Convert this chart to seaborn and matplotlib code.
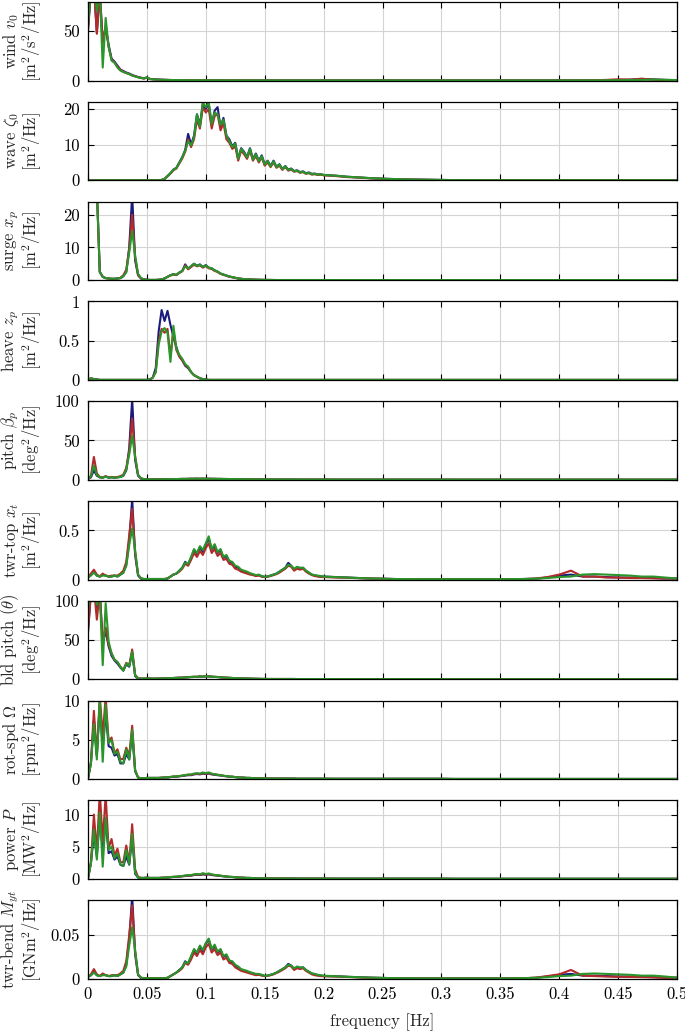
import numpy as np
import pandas as pd
import seaborn as sns
import matplotlib.pyplot as plt
from matplotlib.ticker import FuncFormatter

# frequency grid [Hz]
freq = [0, 0.0025, 0.005, 0.0075, 0.01, 0.0125, 0.015, 0.0175, 0.02, 0.0225, 0.025,
        0.0275, 0.03, 0.0325, 0.035, 0.0375, 0.04, 0.0425, 0.045, 0.0475, 0.05,
        0.0525, 0.055, 0.0575, 0.06, 0.0625, 0.065, 0.0675, 0.07, 0.0725, 0.075,
        0.0775, 0.08, 0.0825, 0.085, 0.0875, 0.09, 0.0925, 0.095, 0.0975, 0.1,
        0.1025, 0.105, 0.1075, 0.11, 0.1125, 0.115, 0.1175, 0.12, 0.1225, 0.125,
        0.1275, 0.13, 0.1325, 0.135, 0.1375, 0.14, 0.1425, 0.145, 0.1475, 0.15,
        0.1525, 0.155, 0.1575, 0.16, 0.1625, 0.165, 0.1675, 0.17, 0.1725, 0.175,
        0.1775, 0.18, 0.1825, 0.185, 0.1875, 0.19, 0.1925, 0.195, 0.1975, 0.2,
        0.21, 0.22, 0.23, 0.24, 0.25, 0.26, 0.27, 0.28, 0.29, 0.3,
        0.31, 0.32, 0.33, 0.34, 0.35, 0.36, 0.37, 0.38, 0.39, 0.4,
        0.41, 0.42, 0.43, 0.44, 0.45, 0.46, 0.47, 0.48, 0.49, 0.5]

# wind v0
wind_a = [50, 90, 95, 48, 88, 40, 52, 36, 22, 19, 15, 11, 9.5, 8, 7, 5.5, 4.5, 3.5, 2.8, 2.2, 3.0,
          1.6, 1.3, 1.1, 0.9, 0.8, 0.7, 0.6, 0.5, 0.45, 0.4, 0.35, 0.3, 0.3, 0.25, 0.25, 0.2, 0.2, 0.2, 0.2, 0.2,
          0.2, 0.2, 0.18, 0.18, 0.16, 0.16, 0.15, 0.15, 0.15, 0.14, 0.14, 0.13, 0.13, 0.12, 0.12, 0.12, 0.11, 0.11, 0.11, 0.1,
          0.1, 0.1, 0.1, 0.1, 0.1, 0.1, 0.1, 0.1, 0.1, 0.1, 0.1, 0.1, 0.1, 0.1, 0.1, 0.1, 0.1, 0.1, 0.1, 0.1,
          0.1, 0.1, 0.1, 0.1, 0.1, 0.08, 0.08, 0.08, 0.08, 0.08, 0.08, 0.08, 0.08, 0.08, 0.08,
          0.1, 0.1, 0.1, 0.1, 0.1, 0.12, 0.15, 0.2, 0.3, 0.5, 0.8, 1.6, 1.1, 0.6, 0.4]
wind_b = [52, 92, 96, 47, 90, 38, 55, 34, 21, 18, 14, 10.5, 9, 7.5, 6.5, 5, 4.2, 3.3, 2.6, 2.0, 2.8,
          1.5, 1.2, 1.0, 0.85, 0.75, 0.65, 0.55, 0.48, 0.42, 0.38, 0.33, 0.3, 0.28, 0.24, 0.23, 0.2, 0.2, 0.19, 0.19, 0.18,
          0.18, 0.17, 0.17, 0.16, 0.15, 0.15, 0.14, 0.14, 0.14, 0.13, 0.13, 0.12, 0.12, 0.12, 0.11, 0.11, 0.11, 0.1, 0.1, 0.1,
          0.1, 0.1, 0.1, 0.1, 0.1, 0.1, 0.1, 0.1, 0.1, 0.1, 0.1, 0.1, 0.1, 0.1, 0.1, 0.1, 0.1, 0.1, 0.1, 0.1,
          0.1, 0.1, 0.1, 0.1, 0.1, 0.08, 0.08, 0.08, 0.08, 0.08, 0.08, 0.08, 0.08, 0.08, 0.08,
          0.1, 0.1, 0.1, 0.1, 0.1, 0.12, 0.2, 0.3, 0.6, 1.2, 0.9, 1.8, 0.8, 0.5, 0.3]
wind_c = [55, 95, 100, 70, 92, 13, 63, 34, 20, 18, 13, 10, 8.5, 7.5, 6.5, 5, 4, 3.2, 2.5, 2.0, 3.2,
          1.5, 1.2, 1.0, 0.85, 0.75, 0.65, 0.55, 0.48, 0.42, 0.38, 0.33, 0.3, 0.28, 0.24, 0.23, 0.2, 0.2, 0.19, 0.19, 0.18,
          0.18, 0.17, 0.17, 0.16, 0.15, 0.15, 0.14, 0.14, 0.14, 0.13, 0.13, 0.12, 0.12, 0.12, 0.11, 0.11, 0.11, 0.1, 0.1, 0.1,
          0.1, 0.1, 0.1, 0.1, 0.1, 0.1, 0.1, 0.1, 0.1, 0.1, 0.1, 0.1, 0.1, 0.1, 0.1, 0.1, 0.1, 0.1, 0.1, 0.1,
          0.1, 0.1, 0.1, 0.1, 0.1, 0.08, 0.08, 0.08, 0.08, 0.08, 0.08, 0.08, 0.08, 0.08, 0.08,
          0.1, 0.1, 0.1, 0.1, 0.1, 0.1, 0.12, 0.15, 0.2, 0.3, 0.4, 0.6, 0.9, 0.7, 0.4]

# wave zeta0
wave_a = [0, 0, 0, 0, 0, 0, 0, 0, 0, 0, 0, 0, 0, 0, 0, 0, 0, 0, 0, 0, 0,
          0, 0, 0, 0, 0.1, 0.4, 1.2, 2.0, 3.0, 3.5, 5.0, 6.5, 8.5, 13.0, 10.0, 12.5, 18.5, 15.5, 21.5, 20.0,
          21.5, 15.5, 19.5, 20.5, 15.0, 17.5, 12.5, 11.5, 9.5, 10.5, 6.0, 9.0, 8.0, 6.5, 9.0, 6.0, 7.5, 5.5, 7.0, 4.5,
          5.5, 4.0, 5.5, 3.8, 4.5, 3.2, 4.0, 3.0, 3.3, 2.6, 2.8, 2.3, 2.5, 2.0, 2.2, 1.8, 1.9, 1.6, 1.7, 1.5,
          1.3, 1.0, 0.8, 0.6, 0.45, 0.35, 0.25, 0.2, 0.15, 0.1, 0.06, 0.04, 0.03, 0.02, 0.02,
          0.02, 0.02, 0.02, 0.02, 0.02, 0.02, 0.02, 0.02, 0.02, 0.02, 0.02, 0.02, 0.02, 0.02, 0.02]
wave_b = [0, 0, 0, 0, 0, 0, 0, 0, 0, 0, 0, 0, 0, 0, 0, 0, 0, 0, 0, 0, 0,
          0, 0, 0, 0, 0.1, 0.4, 1.1, 1.9, 2.8, 3.3, 4.7, 6.1, 8.0, 11.5, 9.3, 11.5, 17.0, 14.5, 20.5, 19.0,
          20.0, 14.5, 18.0, 18.5, 14.0, 16.0, 11.5, 10.5, 8.8, 9.5, 5.5, 8.3, 7.3, 6.0, 8.3, 5.5, 6.8, 5.0, 6.4, 4.1,
          5.0, 3.7, 5.0, 3.5, 4.1, 2.9, 3.7, 2.7, 3.0, 2.4, 2.6, 2.1, 2.3, 1.8, 2.0, 1.6, 1.7, 1.5, 1.6, 1.4,
          1.2, 0.9, 0.75, 0.55, 0.4, 0.3, 0.22, 0.18, 0.13, 0.09, 0.05, 0.04, 0.03, 0.02, 0.02,
          0.02, 0.02, 0.02, 0.02, 0.02, 0.02, 0.02, 0.02, 0.02, 0.02, 0.02, 0.02, 0.02, 0.02, 0.02]
wave_c = [0, 0, 0, 0, 0, 0, 0, 0, 0, 0, 0, 0, 0, 0, 0, 0, 0, 0, 0, 0, 0,
          0, 0, 0, 0, 0.1, 0.4, 1.2, 2.0, 3.0, 3.4, 4.9, 6.4, 8.3, 11.0, 9.8, 12.0, 18.5, 15.0, 21.8, 20.5,
          21.8, 15.8, 19.0, 18.5, 15.5, 17.0, 12.5, 11.0, 9.3, 10.3, 6.0, 8.8, 7.8, 6.4, 8.8, 5.8, 7.3, 5.3, 6.8, 4.4,
          5.4, 3.9, 5.3, 3.7, 4.4, 3.1, 3.9, 2.9, 3.2, 2.5, 2.7, 2.2, 2.4, 1.9, 2.1, 1.7, 1.8, 1.6, 1.7, 1.5,
          1.3, 1.0, 0.8, 0.6, 0.45, 0.35, 0.25, 0.2, 0.15, 0.1, 0.06, 0.04, 0.03, 0.02, 0.02,
          0.02, 0.02, 0.02, 0.02, 0.02, 0.02, 0.02, 0.02, 0.02, 0.02, 0.02, 0.02, 0.02, 0.02, 0.02]

# surge x_p
surge_a = [60, 55, 45, 28, 2.5, 1.0, 0.6, 0.5, 0.4, 0.4, 0.5, 0.6, 1.2, 2.5, 10.0, 26.0, 6.0, 1.5, 0.5, 0.2, 0.1,
           0.05, 0.05, 0.05, 0.1, 0.2, 0.5, 1.0, 1.5, 1.8, 1.6, 2.3, 2.8, 4.8, 3.5, 4.2, 5.0, 4.4, 4.8, 4.0, 4.6,
           3.8, 3.6, 3.0, 2.6, 2.0, 1.7, 1.4, 1.1, 0.9, 0.7, 0.5, 0.4, 0.3, 0.25, 0.2, 0.15, 0.12, 0.1, 0.08, 0.06,
           0.05, 0.04, 0.03, 0.02, 0.02, 0.02, 0.02, 0.02, 0.02, 0.02, 0.02, 0.02, 0.02, 0.02, 0.02, 0.02, 0.02, 0.02, 0.02, 0.02,
           0.01, 0.01, 0.01, 0.01, 0.01, 0.01, 0.01, 0.01, 0.01, 0.01, 0.01, 0.01, 0.01, 0.01, 0.01,
           0.01, 0.01, 0.01, 0.01, 0.01, 0.01, 0.01, 0.01, 0.01, 0.01, 0.01, 0.01, 0.01, 0.01, 0.01]
surge_b = [60, 55, 45, 28, 2.5, 1.0, 0.6, 0.5, 0.4, 0.4, 0.5, 0.7, 1.5, 3.2, 9.5, 20.0, 7.0, 1.5, 0.5, 0.2, 0.1,
           0.05, 0.05, 0.05, 0.1, 0.2, 0.5, 1.0, 1.4, 1.7, 1.5, 2.2, 2.7, 4.5, 3.3, 4.0, 4.7, 4.2, 4.5, 3.8, 4.3,
           3.6, 3.4, 2.8, 2.5, 1.9, 1.6, 1.3, 1.0, 0.85, 0.65, 0.5, 0.4, 0.3, 0.25, 0.2, 0.15, 0.12, 0.1, 0.08, 0.06,
           0.05, 0.04, 0.03, 0.02, 0.02, 0.02, 0.02, 0.02, 0.02, 0.02, 0.02, 0.02, 0.02, 0.02, 0.02, 0.02, 0.02, 0.02, 0.02, 0.02,
           0.01, 0.01, 0.01, 0.01, 0.01, 0.01, 0.01, 0.01, 0.01, 0.01, 0.01, 0.01, 0.01, 0.01, 0.01,
           0.01, 0.01, 0.01, 0.01, 0.01, 0.01, 0.01, 0.01, 0.01, 0.01, 0.01, 0.01, 0.01, 0.01, 0.01]
surge_c = [60, 55, 45, 28, 2.5, 1.0, 0.6, 0.5, 0.4, 0.4, 0.5, 0.6, 1.2, 2.5, 8.5, 15.0, 7.5, 2.0, 0.6, 0.2, 0.1,
           0.05, 0.05, 0.05, 0.1, 0.2, 0.5, 1.0, 1.5, 1.8, 1.6, 2.3, 2.8, 4.2, 3.6, 4.3, 5.0, 4.3, 4.7, 4.0, 4.5,
           3.8, 3.6, 3.0, 2.6, 2.0, 1.7, 1.4, 1.1, 0.9, 0.7, 0.5, 0.4, 0.3, 0.25, 0.2, 0.15, 0.12, 0.1, 0.08, 0.06,
           0.05, 0.04, 0.03, 0.02, 0.02, 0.02, 0.02, 0.02, 0.02, 0.02, 0.02, 0.02, 0.02, 0.02, 0.02, 0.02, 0.02, 0.02, 0.02, 0.02,
           0.01, 0.01, 0.01, 0.01, 0.01, 0.01, 0.01, 0.01, 0.01, 0.01, 0.01, 0.01, 0.01, 0.01, 0.01,
           0.01, 0.01, 0.01, 0.01, 0.01, 0.01, 0.01, 0.01, 0.01, 0.01, 0.01, 0.01, 0.01, 0.01, 0.01]

# heave z_p
heave_a = [0, 0.02, 0.01, 0.005, 0, 0, 0, 0, 0, 0, 0, 0, 0, 0, 0, 0, 0, 0, 0, 0, 0,
           0.005, 0.03, 0.15, 0.62, 0.89, 0.75, 0.88, 0.7, 0.55, 0.42, 0.3, 0.25, 0.18, 0.15, 0.1, 0.06, 0.04, 0.02, 0.01, 0.005,
           0, 0, 0, 0, 0, 0, 0, 0, 0, 0, 0, 0, 0, 0, 0, 0, 0, 0, 0, 0,
           0, 0, 0, 0, 0, 0, 0, 0, 0, 0, 0, 0, 0, 0, 0, 0, 0, 0, 0, 0,
           0, 0, 0, 0, 0, 0, 0, 0, 0, 0, 0, 0, 0, 0, 0,
           0, 0, 0, 0, 0, 0, 0, 0, 0, 0, 0, 0, 0, 0, 0]
heave_b = [0, 0.02, 0.01, 0.005, 0, 0, 0, 0, 0, 0, 0, 0, 0, 0, 0, 0, 0, 0, 0, 0, 0,
           0.005, 0.03, 0.1, 0.5, 0.65, 0.6, 0.65, 0.3, 0.62, 0.38, 0.3, 0.25, 0.19, 0.16, 0.1, 0.06, 0.04, 0.02, 0.01, 0.005,
           0, 0, 0, 0, 0, 0, 0, 0, 0, 0, 0, 0, 0, 0, 0, 0, 0, 0, 0, 0,
           0, 0, 0, 0, 0, 0, 0, 0, 0, 0, 0, 0, 0, 0, 0, 0, 0, 0, 0, 0,
           0, 0, 0, 0, 0, 0, 0, 0, 0, 0, 0, 0, 0, 0, 0,
           0, 0, 0, 0, 0, 0, 0, 0, 0, 0, 0, 0, 0, 0, 0]
heave_c = [0, 0.02, 0.01, 0.005, 0, 0, 0, 0, 0, 0, 0, 0, 0, 0, 0, 0, 0, 0, 0, 0, 0,
           0.005, 0.03, 0.1, 0.45, 0.62, 0.66, 0.6, 0.23, 0.69, 0.4, 0.32, 0.27, 0.2, 0.17, 0.1, 0.06, 0.04, 0.02, 0.01, 0.005,
           0, 0, 0, 0, 0, 0, 0, 0, 0, 0, 0, 0, 0, 0, 0, 0, 0, 0, 0, 0,
           0, 0, 0, 0, 0, 0, 0, 0, 0, 0, 0, 0, 0, 0, 0, 0, 0, 0, 0, 0,
           0, 0, 0, 0, 0, 0, 0, 0, 0, 0, 0, 0, 0, 0, 0,
           0, 0, 0, 0, 0, 0, 0, 0, 0, 0, 0, 0, 0, 0, 0]

# pitch beta_p
pitch_a = [1, 3, 12, 5, 3, 2.5, 4, 2.5, 3, 2.5, 3, 3.5, 5, 12, 40, 103, 25, 5, 1.5, 0.8, 0.5,
           0.4, 0.4, 0.4, 0.4, 0.5, 0.5, 0.6, 0.7, 0.8, 0.8, 0.9, 1.0, 1.0, 1.1, 1.2, 1.2, 1.3, 1.2, 1.3, 1.2,
           1.2, 1.1, 1.1, 1.0, 1.0, 0.9, 0.9, 0.8, 0.8, 0.7, 0.7, 0.6, 0.6, 0.5, 0.5, 0.5, 0.4, 0.4, 0.4, 0.3,
           0.3, 0.3, 0.3, 0.3, 0.3, 0.3, 0.3, 0.3, 0.3, 0.3, 0.2, 0.2, 0.2, 0.2, 0.2, 0.2, 0.2, 0.2, 0.2, 0.2,
           0.1, 0.1, 0.1, 0.1, 0.1, 0.1, 0.1, 0.1, 0.1, 0.1, 0.05, 0.05, 0.05, 0.05, 0.05,
           0.05, 0.05, 0.05, 0.05, 0.05, 0.05, 0.05, 0.05, 0.05, 0.05, 0.05, 0.05, 0.05, 0.05, 0.05]
pitch_b = [1, 5, 29, 8, 3.5, 3, 4.5, 3, 3.5, 3, 3.5, 4.5, 6.5, 15, 36, 78, 30, 6, 1.5, 0.8, 0.5,
           0.4, 0.4, 0.4, 0.4, 0.5, 0.5, 0.6, 0.7, 0.8, 0.8, 0.9, 1.0, 1.0, 1.1, 1.2, 1.2, 1.3, 1.2, 1.3, 1.2,
           1.2, 1.1, 1.1, 1.0, 1.0, 0.9, 0.9, 0.8, 0.8, 0.7, 0.7, 0.6, 0.6, 0.5, 0.5, 0.5, 0.4, 0.4, 0.4, 0.3,
           0.3, 0.3, 0.3, 0.3, 0.3, 0.3, 0.3, 0.3, 0.3, 0.3, 0.2, 0.2, 0.2, 0.2, 0.2, 0.2, 0.2, 0.2, 0.2, 0.2,
           0.1, 0.1, 0.1, 0.1, 0.1, 0.1, 0.1, 0.1, 0.1, 0.1, 0.05, 0.05, 0.05, 0.05, 0.05,
           0.05, 0.05, 0.05, 0.05, 0.05, 0.05, 0.05, 0.05, 0.05, 0.05, 0.05, 0.05, 0.05, 0.05, 0.05]
pitch_c = [1, 4, 18, 6, 3, 2.5, 4, 2.5, 3, 2.5, 3, 3.5, 5.5, 13, 32, 56, 29, 6.5, 1.5, 0.8, 0.5,
           0.4, 0.4, 0.4, 0.4, 0.5, 0.5, 0.6, 0.7, 0.8, 0.8, 0.9, 1.0, 1.0, 1.1, 1.2, 1.2, 1.3, 1.2, 1.3, 1.2,
           1.2, 1.1, 1.1, 1.0, 1.0, 0.9, 0.9, 0.8, 0.8, 0.7, 0.7, 0.6, 0.6, 0.5, 0.5, 0.5, 0.4, 0.4, 0.4, 0.3,
           0.3, 0.3, 0.3, 0.3, 0.3, 0.3, 0.3, 0.3, 0.3, 0.3, 0.2, 0.2, 0.2, 0.2, 0.2, 0.2, 0.2, 0.2, 0.2, 0.2,
           0.1, 0.1, 0.1, 0.1, 0.1, 0.1, 0.1, 0.1, 0.1, 0.1, 0.05, 0.05, 0.05, 0.05, 0.05,
           0.05, 0.05, 0.05, 0.05, 0.05, 0.05, 0.05, 0.05, 0.05, 0.05, 0.05, 0.05, 0.05, 0.05, 0.05]

# tower-top x_t
twrtop_a = [0.02, 0.05, 0.08, 0.04, 0.03, 0.05, 0.04, 0.03, 0.03, 0.04, 0.03, 0.05, 0.07, 0.15, 0.40, 0.82, 0.25, 0.04, 0.01, 0.005, 0.005,
            0.005, 0.005, 0.005, 0.005, 0.005, 0.005, 0.01, 0.03, 0.05, 0.06, 0.09, 0.12, 0.18, 0.15, 0.22, 0.30, 0.26, 0.33, 0.28, 0.36,
            0.42, 0.30, 0.35, 0.27, 0.30, 0.22, 0.24, 0.18, 0.17, 0.13, 0.12, 0.09, 0.08, 0.07, 0.06, 0.05, 0.04, 0.045, 0.03, 0.025,
            0.03, 0.04, 0.05, 0.06, 0.08, 0.10, 0.12, 0.17, 0.14, 0.10, 0.12, 0.11, 0.12, 0.09, 0.07, 0.05, 0.04, 0.035, 0.03, 0.03,
            0.025, 0.02, 0.015, 0.01, 0.008, 0.005, 0.004, 0.003, 0.003, 0.003, 0.003, 0.003, 0.003, 0.003, 0.003,
            0.004, 0.005, 0.008, 0.02, 0.04, 0.05, 0.03, 0.03, 0.025, 0.02, 0.02, 0.02, 0.015, 0.01, 0.01]
twrtop_b = [0.02, 0.06, 0.10, 0.05, 0.03, 0.06, 0.04, 0.03, 0.04, 0.04, 0.04, 0.06, 0.09, 0.18, 0.45, 0.72, 0.28, 0.05, 0.01, 0.005, 0.005,
            0.005, 0.005, 0.005, 0.005, 0.005, 0.005, 0.01, 0.03, 0.05, 0.06, 0.08, 0.11, 0.16, 0.14, 0.20, 0.27, 0.23, 0.29, 0.25, 0.32,
            0.37, 0.27, 0.31, 0.24, 0.27, 0.20, 0.21, 0.16, 0.15, 0.11, 0.10, 0.08, 0.07, 0.06, 0.05, 0.045, 0.035, 0.04, 0.03, 0.025,
            0.03, 0.035, 0.045, 0.055, 0.07, 0.09, 0.11, 0.14, 0.13, 0.09, 0.11, 0.10, 0.11, 0.08, 0.06, 0.045, 0.035, 0.03, 0.025, 0.025,
            0.02, 0.018, 0.013, 0.01, 0.007, 0.005, 0.004, 0.003, 0.003, 0.003, 0.003, 0.003, 0.003, 0.003, 0.003,
            0.004, 0.005, 0.01, 0.025, 0.05, 0.09, 0.03, 0.03, 0.02, 0.02, 0.015, 0.015, 0.012, 0.01, 0.008]
twrtop_c = [0.02, 0.04, 0.07, 0.04, 0.03, 0.04, 0.04, 0.03, 0.03, 0.04, 0.03, 0.05, 0.07, 0.14, 0.35, 0.52, 0.30, 0.05, 0.01, 0.005, 0.005,
            0.005, 0.005, 0.005, 0.005, 0.005, 0.005, 0.01, 0.03, 0.05, 0.06, 0.09, 0.12, 0.17, 0.16, 0.23, 0.31, 0.27, 0.34, 0.30, 0.37,
            0.44, 0.31, 0.36, 0.28, 0.31, 0.23, 0.25, 0.19, 0.18, 0.14, 0.13, 0.10, 0.09, 0.08, 0.065, 0.055, 0.045, 0.05, 0.035, 0.03,
            0.03, 0.04, 0.05, 0.06, 0.08, 0.10, 0.12, 0.15, 0.14, 0.11, 0.13, 0.12, 0.12, 0.09, 0.07, 0.05, 0.045, 0.04, 0.035, 0.03,
            0.025, 0.02, 0.015, 0.01, 0.008, 0.005, 0.004, 0.003, 0.003, 0.003, 0.003, 0.003, 0.003, 0.003, 0.003,
            0.004, 0.005, 0.008, 0.015, 0.025, 0.03, 0.05, 0.055, 0.05, 0.045, 0.04, 0.03, 0.03, 0.02, 0.01]

# blade pitch theta
bld_a = [60, 110, 120, 92, 110, 45, 62, 42, 30, 24, 20, 15, 11, 19, 16, 34, 4, 1, 0.8, 0.8, 1.0,
         1.0, 0.8, 0.8, 1.0, 1.0, 1.2, 1.2, 1.5, 1.6, 1.8, 2.0, 2.0, 2.3, 2.5, 2.8, 3.0, 3.0, 3.5, 3.2, 3.8,
         3.6, 3.2, 3.0, 2.8, 2.5, 2.2, 2.0, 1.8, 1.6, 1.4, 1.2, 1.1, 1.0, 0.9, 0.8, 0.7, 0.6, 0.6, 0.5, 0.5,
         0.4, 0.4, 0.4, 0.4, 0.4, 0.4, 0.4, 0.4, 0.4, 0.4, 0.3, 0.3, 0.3, 0.3, 0.3, 0.3, 0.3, 0.3, 0.3, 0.3,
         0.2, 0.2, 0.2, 0.2, 0.2, 0.2, 0.2, 0.2, 0.2, 0.2, 0.1, 0.1, 0.1, 0.1, 0.1,
         0.1, 0.1, 0.1, 0.1, 0.1, 0.1, 0.1, 0.1, 0.1, 0.1, 0.1, 0.1, 0.1, 0.1, 0.1]
bld_b = [62, 112, 118, 76, 112, 48, 66, 44, 33, 25, 22, 16, 12, 21, 18, 38, 6, 1.2, 0.8, 0.8, 1.0,
         1.0, 0.8, 0.8, 1.0, 1.0, 1.2, 1.3, 1.6, 1.7, 1.9, 2.1, 2.2, 2.5, 2.7, 3.0, 3.3, 3.2, 3.8, 3.4, 4.0,
         3.8, 3.4, 3.2, 3.0, 2.6, 2.3, 2.1, 1.9, 1.7, 1.5, 1.3, 1.2, 1.1, 1.0, 0.9, 0.8, 0.7, 0.6, 0.5, 0.5,
         0.4, 0.4, 0.4, 0.4, 0.4, 0.4, 0.4, 0.4, 0.4, 0.4, 0.3, 0.3, 0.3, 0.3, 0.3, 0.3, 0.3, 0.3, 0.3, 0.3,
         0.2, 0.2, 0.2, 0.2, 0.2, 0.2, 0.2, 0.2, 0.2, 0.2, 0.1, 0.1, 0.1, 0.1, 0.1,
         0.1, 0.1, 0.1, 0.1, 0.1, 0.1, 0.1, 0.1, 0.1, 0.1, 0.1, 0.1, 0.1, 0.1, 0.1]
bld_c = [90, 115, 120, 95, 110, 18, 97, 48, 33, 25, 22, 16, 11, 20, 17, 35, 5, 1, 0.8, 0.8, 1.0,
         1.0, 0.8, 0.8, 1.0, 1.0, 1.2, 1.2, 1.5, 1.6, 1.8, 2.0, 2.1, 2.4, 2.6, 3.0, 3.2, 3.1, 3.6, 3.3, 4.0,
         3.7, 3.3, 3.1, 2.9, 2.6, 2.3, 2.1, 1.9, 1.7, 1.5, 1.3, 1.2, 1.1, 1.0, 0.9, 0.8, 0.7, 0.6, 0.5, 0.5,
         0.4, 0.4, 0.4, 0.4, 0.4, 0.4, 0.4, 0.4, 0.4, 0.4, 0.3, 0.3, 0.3, 0.3, 0.3, 0.3, 0.3, 0.3, 0.3, 0.3,
         0.2, 0.2, 0.2, 0.2, 0.2, 0.2, 0.2, 0.2, 0.2, 0.2, 0.1, 0.1, 0.1, 0.1, 0.1,
         0.1, 0.1, 0.1, 0.1, 0.1, 0.1, 0.1, 0.1, 0.1, 0.1, 0.1, 0.1, 0.1, 0.1, 0.1]

# rotor speed Omega
rot_a = [0.1, 2.0, 7.5, 3.0, 9.5, 4.0, 8.5, 4.2, 4.0, 3.0, 3.2, 2.0, 2.0, 3.2, 2.5, 6.0, 1.0, 0.2, 0.1, 0.12, 0.15,
         0.15, 0.15, 0.15, 0.15, 0.18, 0.2, 0.2, 0.25, 0.3, 0.3, 0.35, 0.4, 0.45, 0.5, 0.5, 0.6, 0.65, 0.6, 0.7, 0.65,
         0.7, 0.6, 0.55, 0.5, 0.45, 0.4, 0.35, 0.3, 0.3, 0.25, 0.2, 0.2, 0.18, 0.15, 0.15, 0.12, 0.1, 0.1, 0.1, 0.08,
         0.07, 0.07, 0.07, 0.07, 0.07, 0.07, 0.07, 0.07, 0.07, 0.07, 0.05, 0.05, 0.05, 0.05, 0.05, 0.05, 0.05, 0.05, 0.05, 0.05,
         0.04, 0.04, 0.04, 0.04, 0.04, 0.04, 0.04, 0.04, 0.04, 0.04, 0.02, 0.02, 0.02, 0.02, 0.02,
         0.02, 0.02, 0.02, 0.02, 0.02, 0.02, 0.02, 0.02, 0.02, 0.02, 0.02, 0.02, 0.02, 0.02, 0.02]
rot_b = [0.1, 2.2, 8.7, 3.0, 10.5, 5.5, 10.5, 4.8, 5.3, 3.3, 3.8, 2.5, 2.6, 4.0, 3.0, 6.8, 1.2, 0.2, 0.1, 0.12, 0.15,
         0.15, 0.15, 0.15, 0.15, 0.18, 0.2, 0.22, 0.27, 0.32, 0.33, 0.38, 0.43, 0.5, 0.55, 0.55, 0.65, 0.7, 0.65, 0.75, 0.7,
         0.75, 0.65, 0.6, 0.55, 0.5, 0.42, 0.38, 0.32, 0.3, 0.25, 0.22, 0.2, 0.18, 0.15, 0.15, 0.12, 0.1, 0.1, 0.1, 0.08,
         0.07, 0.07, 0.07, 0.07, 0.07, 0.07, 0.07, 0.07, 0.07, 0.07, 0.05, 0.05, 0.05, 0.05, 0.05, 0.05, 0.05, 0.05, 0.05, 0.05,
         0.04, 0.04, 0.04, 0.04, 0.04, 0.04, 0.04, 0.04, 0.04, 0.04, 0.02, 0.02, 0.02, 0.02, 0.02,
         0.02, 0.02, 0.02, 0.02, 0.02, 0.02, 0.02, 0.02, 0.02, 0.02, 0.02, 0.02, 0.02, 0.02, 0.02]
rot_c = [0.1, 2.0, 7.0, 2.5, 10.2, 2.2, 9.5, 4.6, 5.0, 3.2, 3.5, 2.2, 2.0, 3.8, 2.5, 6.3, 1.1, 0.2, 0.1, 0.12, 0.15,
         0.15, 0.15, 0.15, 0.15, 0.18, 0.2, 0.22, 0.28, 0.33, 0.35, 0.4, 0.45, 0.52, 0.58, 0.6, 0.7, 0.75, 0.7, 0.85, 0.75,
         0.85, 0.7, 0.62, 0.55, 0.5, 0.43, 0.38, 0.33, 0.3, 0.26, 0.22, 0.2, 0.18, 0.15, 0.15, 0.12, 0.1, 0.1, 0.1, 0.08,
         0.07, 0.07, 0.07, 0.07, 0.07, 0.07, 0.07, 0.07, 0.07, 0.07, 0.05, 0.05, 0.05, 0.05, 0.05, 0.05, 0.05, 0.05, 0.05, 0.05,
         0.04, 0.04, 0.04, 0.04, 0.04, 0.04, 0.04, 0.04, 0.04, 0.04, 0.02, 0.02, 0.02, 0.02, 0.02,
         0.02, 0.02, 0.02, 0.02, 0.02, 0.02, 0.02, 0.02, 0.02, 0.02, 0.02, 0.02, 0.02, 0.02, 0.02]

# power P
power_a = [0.1, 2.5, 7.0, 3.5, 9.5, 4.5, 9.0, 4.0, 4.3, 3.0, 3.5, 2.2, 2.0, 3.5, 2.2, 6.5, 0.8, 0.2, 0.15, 0.15, 0.2,
           0.15, 0.15, 0.15, 0.15, 0.18, 0.2, 0.2, 0.25, 0.3, 0.3, 0.35, 0.4, 0.45, 0.5, 0.5, 0.6, 0.65, 0.6, 0.7, 0.65,
           0.7, 0.6, 0.55, 0.5, 0.45, 0.4, 0.35, 0.3, 0.3, 0.25, 0.2, 0.2, 0.18, 0.15, 0.15, 0.12, 0.1, 0.1, 0.1, 0.08,
           0.07, 0.07, 0.07, 0.07, 0.07, 0.07, 0.07, 0.07, 0.07, 0.07, 0.05, 0.05, 0.05, 0.05, 0.05, 0.05, 0.05, 0.05, 0.05, 0.05,
           0.04, 0.04, 0.04, 0.04, 0.04, 0.04, 0.04, 0.04, 0.04, 0.04, 0.02, 0.02, 0.02, 0.02, 0.02,
           0.02, 0.02, 0.02, 0.02, 0.02, 0.02, 0.02, 0.02, 0.02, 0.02, 0.02, 0.02, 0.02, 0.02, 0.02]
power_b = [0.1, 2.6, 10.0, 4.2, 13.5, 5.8, 13.0, 4.8, 6.2, 3.6, 4.7, 2.6, 2.6, 5.2, 2.6, 8.5, 1.5, 0.3, 0.15, 0.15, 0.2,
           0.15, 0.15, 0.15, 0.15, 0.18, 0.2, 0.22, 0.27, 0.32, 0.33, 0.38, 0.43, 0.5, 0.55, 0.55, 0.65, 0.7, 0.65, 0.75, 0.7,
           0.75, 0.65, 0.6, 0.55, 0.5, 0.42, 0.38, 0.32, 0.3, 0.25, 0.22, 0.2, 0.18, 0.15, 0.15, 0.12, 0.1, 0.1, 0.1, 0.08,
           0.07, 0.07, 0.07, 0.07, 0.07, 0.07, 0.07, 0.07, 0.07, 0.07, 0.05, 0.05, 0.05, 0.05, 0.05, 0.05, 0.05, 0.05, 0.05, 0.05,
           0.04, 0.04, 0.04, 0.04, 0.04, 0.04, 0.04, 0.04, 0.04, 0.04, 0.02, 0.02, 0.02, 0.02, 0.02,
           0.02, 0.02, 0.02, 0.02, 0.02, 0.02, 0.02, 0.02, 0.02, 0.02, 0.02, 0.02, 0.02, 0.02, 0.02]
power_c = [0.1, 2.4, 7.7, 3.0, 10.3, 1.9, 9.5, 4.5, 5.0, 3.2, 4.0, 2.3, 2.0, 4.5, 2.3, 7.0, 1.0, 0.2, 0.15, 0.15, 0.2,
           0.15, 0.15, 0.15, 0.15, 0.18, 0.2, 0.22, 0.28, 0.33, 0.35, 0.4, 0.45, 0.52, 0.58, 0.6, 0.7, 0.75, 0.7, 0.9, 0.75,
           0.85, 0.7, 0.62, 0.55, 0.5, 0.43, 0.38, 0.33, 0.3, 0.26, 0.22, 0.2, 0.18, 0.15, 0.15, 0.12, 0.1, 0.1, 0.1, 0.08,
           0.07, 0.07, 0.07, 0.07, 0.07, 0.07, 0.07, 0.07, 0.07, 0.07, 0.05, 0.05, 0.05, 0.05, 0.05, 0.05, 0.05, 0.05, 0.05, 0.05,
           0.04, 0.04, 0.04, 0.04, 0.04, 0.04, 0.04, 0.04, 0.04, 0.04, 0.02, 0.02, 0.02, 0.02, 0.02,
           0.02, 0.02, 0.02, 0.02, 0.02, 0.02, 0.02, 0.02, 0.02, 0.02, 0.02, 0.02, 0.02, 0.02, 0.02]

# tower bending M_yt
bend_a = [0.002, 0.004, 0.008, 0.004, 0.003, 0.005, 0.004, 0.003, 0.003, 0.004, 0.003, 0.005, 0.007, 0.016, 0.045, 0.095, 0.028, 0.004, 0.001, 0.0005, 0.0005,
          0.0005, 0.0005, 0.0005, 0.0005, 0.0005, 0.0005, 0.001, 0.003, 0.005, 0.007, 0.01, 0.013, 0.02, 0.017, 0.025, 0.033, 0.029, 0.037, 0.031, 0.04,
          0.045, 0.033, 0.038, 0.03, 0.033, 0.025, 0.027, 0.02, 0.019, 0.015, 0.013, 0.01, 0.009, 0.008, 0.007, 0.006, 0.005, 0.005, 0.004, 0.003,
          0.0035, 0.0045, 0.0055, 0.007, 0.009, 0.011, 0.013, 0.017, 0.015, 0.011, 0.013, 0.012, 0.013, 0.01, 0.008, 0.006, 0.005, 0.004, 0.0035, 0.003,
          0.0028, 0.0022, 0.0017, 0.0012, 0.0009, 0.0006, 0.0005, 0.0004, 0.0004, 0.0004, 0.0004, 0.0004, 0.0004, 0.0004, 0.0004,
          0.0005, 0.0006, 0.001, 0.0025, 0.0045, 0.0055, 0.0035, 0.0035, 0.003, 0.0025, 0.0025, 0.0022, 0.0018, 0.0012, 0.0012]
bend_b = [0.002, 0.005, 0.011, 0.005, 0.003, 0.006, 0.004, 0.003, 0.004, 0.004, 0.004, 0.006, 0.009, 0.02, 0.05, 0.084, 0.031, 0.005, 0.001, 0.0005, 0.0005,
          0.0005, 0.0005, 0.0005, 0.0005, 0.0005, 0.0005, 0.001, 0.003, 0.005, 0.007, 0.009, 0.012, 0.018, 0.016, 0.022, 0.03, 0.026, 0.033, 0.028, 0.036,
          0.04, 0.03, 0.034, 0.027, 0.03, 0.022, 0.024, 0.018, 0.017, 0.013, 0.011, 0.009, 0.008, 0.007, 0.006, 0.005, 0.004, 0.0045, 0.0035, 0.003,
          0.0032, 0.004, 0.005, 0.0065, 0.008, 0.01, 0.012, 0.015, 0.014, 0.01, 0.012, 0.011, 0.012, 0.009, 0.007, 0.005, 0.004, 0.0035, 0.003, 0.0028,
          0.0025, 0.002, 0.0015, 0.001, 0.0008, 0.0006, 0.0005, 0.0004, 0.0004, 0.0004, 0.0004, 0.0004, 0.0004, 0.0004, 0.0004,
          0.0005, 0.0006, 0.0012, 0.003, 0.005, 0.01, 0.0035, 0.003, 0.0025, 0.0022, 0.002, 0.0018, 0.0015, 0.001, 0.001]
bend_c = [0.002, 0.004, 0.007, 0.004, 0.003, 0.004, 0.004, 0.003, 0.003, 0.004, 0.003, 0.005, 0.007, 0.014, 0.038, 0.059, 0.033, 0.005, 0.001, 0.0005, 0.0005,
          0.0005, 0.0005, 0.0005, 0.0005, 0.0005, 0.0005, 0.001, 0.003, 0.005, 0.007, 0.01, 0.013, 0.019, 0.018, 0.026, 0.034, 0.03, 0.038, 0.033, 0.041,
          0.046, 0.034, 0.039, 0.031, 0.034, 0.026, 0.028, 0.021, 0.02, 0.016, 0.014, 0.011, 0.01, 0.009, 0.0075, 0.0065, 0.0055, 0.0055, 0.0045, 0.0035,
          0.0035, 0.0045, 0.0055, 0.007, 0.009, 0.011, 0.013, 0.016, 0.015, 0.012, 0.014, 0.013, 0.013, 0.01, 0.008, 0.006, 0.0055, 0.0045, 0.004, 0.0035,
          0.0028, 0.0022, 0.0017, 0.0012, 0.0009, 0.0006, 0.0005, 0.0004, 0.0004, 0.0004, 0.0004, 0.0004, 0.0004, 0.0004, 0.0004,
          0.0005, 0.0006, 0.001, 0.0018, 0.003, 0.0035, 0.0055, 0.006, 0.0055, 0.005, 0.0045, 0.0035, 0.0035, 0.0025, 0.0012]

ylabels = ["wind $v_0$\n[m$^2$/s$^2$/Hz]", "wave $\\zeta_0$\n[m$^2$/Hz]", "surge $x_p$\n[m$^2$/Hz]",
           "heave $z_p$\n[m$^2$/Hz]", "pitch $\\beta_p$\n[deg$^2$/Hz]", "twr-top $x_t$\n[m$^2$/Hz]",
           "bld pitch $(\\theta)$\n[deg$^2$/Hz]", "rot-spd $\\mathit{\\Omega}$\n[rpm$^2$/Hz]",
           "power $P$\n[MW$^2$/Hz]", "twr-bend $M_{yt}$\n[GNm$^2$/Hz]"]
ylims = [79, 22, 24, 1, 100, 0.8, 100, 10, 12.2, 0.09]
yticks = [[0, 50], [0, 10, 20], [0, 10, 20], [0, 0.5, 1], [0, 50, 100], [0, 0.5],
          [0, 50, 100], [0, 5, 10], [0, 5, 10], [0, 0.05]]
xticks = [0, 0.05, 0.1, 0.15, 0.2, 0.25, 0.3, 0.35, 0.4, 0.45, 0.5]

series = [(wind_a, wind_b, wind_c), (wave_a, wave_b, wave_c), (surge_a, surge_b, surge_c),
          (heave_a, heave_b, heave_c), (pitch_a, pitch_b, pitch_c), (twrtop_a, twrtop_b, twrtop_c),
          (bld_a, bld_b, bld_c), (rot_a, rot_b, rot_c), (power_a, power_b, power_c),
          (bend_a, bend_b, bend_c)]
cases = ["case 1", "case 2", "case 3"]
colors = ["#1b1b7d", "#b22a2a", "#2a952a"]

sns.set_style("ticks")
plt.rcParams["font.family"] = "serif"
plt.rcParams["font.serif"] = ["cmr10"]
plt.rcParams["mathtext.fontset"] = "cm"
plt.rcParams["axes.formatter.use_mathtext"] = True

W, H = 685, 1034
fig = plt.figure(figsize=(W / 100, H / 100), dpi=100)
fmt = FuncFormatter(lambda v, _: f"{v:g}")

for i, (vals, lab) in enumerate(zip(series, ylabels)):
    top = 2 + i * 99.8
    ax = fig.add_axes([88 / W, 1 - (top + 78.5) / H, 589 / W, 78.5 / H])
    df = pd.DataFrame({"freq": freq * 3,
                       "psd": list(vals[0]) + list(vals[1]) + list(vals[2]),
                       "case": [c for c in cases for _ in freq]})
    sns.lineplot(data=df, x="freq", y="psd", hue="case", hue_order=cases,
                 palette=colors, linewidth=1.5, legend=False, errorbar=None, ax=ax)
    ax.set_xlim(0, 0.5)
    ax.set_ylim(0, ylims[i])
    ax.set_xticks(xticks)
    ax.set_yticks(yticks[i])
    ax.yaxis.set_major_formatter(fmt)
    ax.xaxis.set_major_formatter(fmt)
    ax.set_axisbelow(True)
    ax.grid(True, color="#d4d4d4", linewidth=0.8)
    ax.tick_params(direction="in", top=True, right=True, length=4, width=0.8,
                   labelsize=12, pad=6, colors="black")
    for s in ax.spines.values():
        s.set_linewidth(0.9)
        s.set_color("black")
    ax.set_ylabel(lab, fontsize=12, linespacing=1.0)
    ax.yaxis.set_label_coords(-0.074, 0.5)
    if i < 9:
        ax.set_xlabel("")
        ax.tick_params(labelbottom=False)
    else:
        ax.set_xlabel("frequency [Hz]", fontsize=12, labelpad=8)

fig.savefig("out.png", dpi=100)
